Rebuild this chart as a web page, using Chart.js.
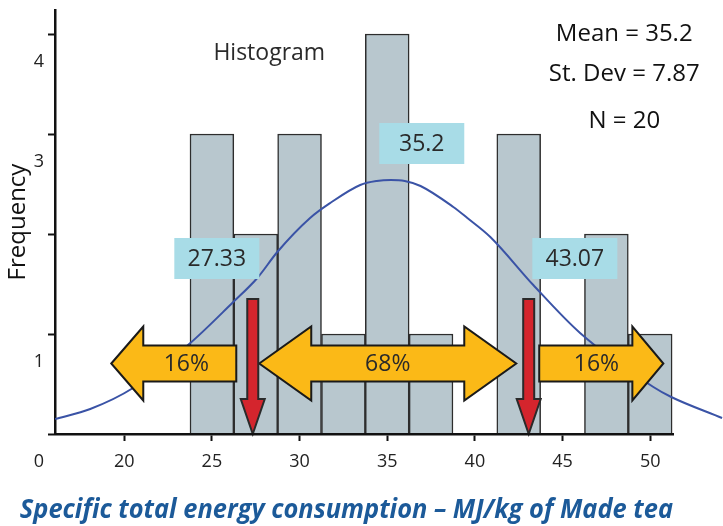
<!DOCTYPE html>
<html>
<head>
<meta charset="utf-8">
<title>Specific total energy consumption histogram</title>
<script src="https://cdn.jsdelivr.net/npm/chart.js@4.4.1/dist/chart.umd.min.js"></script>
<style>
  html, body { margin: 0; padding: 0; background: #fff; }
  #wrap { width: 723px; height: 526px; }
</style>
</head>
<body>
<div id="wrap"><canvas id="histChart" width="723" height="526"></canvas></div>
<script>
// Histogram bins (centres of 2.5 MJ/kg wide bins) and their counts
const binCentres = [25, 27.5, 30, 32.5, 35, 37.5, 40, 42.5, 45, 47.5, 50];
const binCounts  = [3, 2, 3, 1, 4, 1, 0, 3, 0, 2, 1];

// Fitted normal curve
const curveX = [16.06, 18.06, 20.5, 23.77, 26.16, 27.59, 28.73, 30.6, 31.75, 33.46, 34.4,
                35.2, 36.0, 36.9, 38.77, 39.57, 40.88, 43.33, 46.0, 50.18, 51.2, 54.1];
const curveY = [0.15, 0.25, 0.46, 0.91, 1.31, 1.56, 1.82, 2.16, 2.31, 2.49, 2.53,
                2.54, 2.53, 2.48, 2.27, 2.16, 1.97, 1.49, 1.01, 0.47, 0.37, 0.16];

// Axis ticks
const xTickValues = [20, 25, 30, 35, 40, 45, 50];
const yTickValues = [0, 1, 2, 3, 4];
const yTickLabels = ['0', '1', '', '3', '4'];

// Summary statistics and the +/- 1 sd markers
const statLines   = ['Mean = 35.2', 'St. Dev = 7.87', 'N = 20'];
const markerTexts = ['27.33', '35.2', '43.07'];
const sdMarkers   = [27.33, 43.07];
const shareLabels = ['16%', '68%', '16%'];

const FONT = '"Open Sans", "Noto Sans", sans-serif';

// where the annotations sit (data units)
const layoutNotes = {
  histogram: { x: 28.27, y: 3.82 },
  stats: { x: 48.52, y: [4.01, 3.61, 3.14] },
  boxes: [{ x: 25.28, y: 1.755 }, { x: 36.97, y: 2.905 }, { x: 45.7, y: 1.755 }],
  bands: [
    { left: 19.26, right: 26.39, headL: true,  headR: false, headLen: 32, labelAt: 23.54 },
    { left: 27.70, right: 42.36, headL: true,  headR: true,  headLen: 52, labelAt: 35.03 },
    { left: 43.67, right: 50.75, headL: false, headR: true,  headLen: 31, labelAt: 46.93 }
  ],
  bandY: 0.705,
  redTop: 1.35
};

function blockArrow(ctx, xl, xr, yc, a) {
  const sh = 18, hh = 37, hl = a.headLen;
  ctx.beginPath();
  if (a.headL) { ctx.moveTo(xl, yc); ctx.lineTo(xl + hl, yc - hh); ctx.lineTo(xl + hl, yc - sh); }
  else { ctx.moveTo(xl, yc - sh); }
  if (a.headR) {
    ctx.lineTo(xr - hl, yc - sh); ctx.lineTo(xr - hl, yc - hh); ctx.lineTo(xr, yc);
    ctx.lineTo(xr - hl, yc + hh); ctx.lineTo(xr - hl, yc + sh);
  } else {
    ctx.lineTo(xr, yc - sh); ctx.lineTo(xr, yc + sh);
  }
  if (a.headL) { ctx.lineTo(xl + hl, yc + sh); ctx.lineTo(xl + hl, yc + hh); }
  else { ctx.lineTo(xl, yc + sh); }
  ctx.closePath();
  ctx.fillStyle = '#fbb917';
  ctx.fill();
  ctx.lineWidth = 2;
  ctx.strokeStyle = '#1a1a1a';
  ctx.stroke();
}

function downArrow(ctx, xc, top, tip) {
  const sw = 5.5, hw = 12, hl = 35;
  ctx.beginPath();
  ctx.moveTo(xc - sw, top);
  ctx.lineTo(xc + sw, top);
  ctx.lineTo(xc + sw, tip - hl);
  ctx.lineTo(xc + hw, tip - hl);
  ctx.lineTo(xc, tip);
  ctx.lineTo(xc - hw, tip - hl);
  ctx.lineTo(xc - sw, tip - hl);
  ctx.closePath();
  ctx.fillStyle = '#d4252d';
  ctx.fill();
  ctx.lineWidth = 2;
  ctx.strokeStyle = '#2a2a2a';
  ctx.stroke();
}

const overlay = {
  id: 'overlay',
  afterDatasetsDraw(chart) {
    const { ctx } = chart;
    const x = chart.scales.x, y = chart.scales.y;
    ctx.save();

    // 16% / 68% / 16% band arrows
    const yc = y.getPixelForValue(layoutNotes.bandY);
    layoutNotes.bands.forEach((b, i) => {
      blockArrow(ctx, x.getPixelForValue(b.left), x.getPixelForValue(b.right), yc, b);
      ctx.fillStyle = '#2a2a2a';
      ctx.font = '23px ' + FONT;
      ctx.textAlign = 'center';
      ctx.textBaseline = 'middle';
      ctx.fillText(shareLabels[i], x.getPixelForValue(b.labelAt), yc + 1);
    });

    // red markers at mean +/- 1 sd
    sdMarkers.forEach(v => {
      downArrow(ctx, x.getPixelForValue(v), y.getPixelForValue(layoutNotes.redTop), y.getPixelForValue(0));
    });

    // value boxes
    layoutNotes.boxes.forEach((p, i) => {
      const cx = x.getPixelForValue(p.x), cy = y.getPixelForValue(p.y);
      ctx.fillStyle = '#a8dce7';
      ctx.fillRect(cx - 42.5, cy - 20.5, 85, 41);
      ctx.fillStyle = '#2a2a2a';
      ctx.font = '23px ' + FONT;
      ctx.textAlign = 'center';
      ctx.textBaseline = 'middle';
      ctx.fillText(markerTexts[i], cx, cy + 1);
    });

    // "Histogram" and summary stats
    ctx.fillStyle = '#2a2a2a';
    ctx.font = '23px ' + FONT;
    ctx.fillText('Histogram', x.getPixelForValue(layoutNotes.histogram.x), y.getPixelForValue(layoutNotes.histogram.y) + 1);
    ctx.fillStyle = '#111';
    ctx.font = '24px ' + FONT;
    statLines.forEach((t, i) => {
      ctx.fillText(t, x.getPixelForValue(layoutNotes.stats.x), y.getPixelForValue(layoutNotes.stats.y[i]) + 1);
    });
    ctx.restore();
  }
};

const ctx = document.getElementById('histChart').getContext('2d');

new Chart(ctx, {
  type: 'bar',
  data: {
    datasets: [
      {
        type: 'line',
        label: 'Normal fit',
        data: curveX.map((v, i) => ({ x: v, y: curveY[i] })),
        borderColor: '#3a53a6',
        borderWidth: 2,
        pointRadius: 0,
        cubicInterpolationMode: 'monotone',
        fill: false,
        clip: false,
        order: 1
      },
      {
        type: 'bar',
        label: 'Frequency',
        data: binCentres.map((v, i) => ({ x: v, y: binCounts[i] })),
        backgroundColor: '#b8c7ce',
        borderColor: '#2d2d2d',
        borderWidth: 1.5,
        barPercentage: 1,
        categoryPercentage: 1,
        order: 2
      }
    ]
  },
  options: {
    responsive: false,
    animation: false,
    layout: { padding: { top: 10, right: 50, left: 0, bottom: 0 } },
    plugins: {
      legend: { display: false },
      tooltip: { enabled: false },
      title: {
        display: true,
        position: 'bottom',
        text: '   Specific total energy consumption \u2013 MJ/kg of Made tea',
        color: '#1c5a99',
        font: { family: FONT, size: 26, weight: 'bold', style: 'italic', lineHeight: 1.2 },
        padding: { top: 2, bottom: 0 }
      }
    },
    scales: {
      x: {
        type: 'linear',
        min: 16.05,
        max: 51.3,
        offset: false,
        afterBuildTicks: s => { s.ticks = xTickValues.map(v => ({ value: v })); },
        afterFit: s => { s.height = 58.8; s.paddingLeft = 0; s.paddingRight = 0; },
        grid: { drawOnChartArea: false, offset: false, tickLength: 7, tickWidth: 2, tickColor: '#111' },
        border: { color: '#111', width: 2.5, z: 1 },
        ticks: { color: '#222', font: { family: FONT, size: 18 }, padding: 10, maxRotation: 0 }
      },
      y: {
        min: 0,
        max: 4.24,
        afterBuildTicks: s => { s.ticks = yTickValues.map(v => ({ value: v })); },
        afterFit: s => { s.width = 55; s.paddingTop = 0; s.paddingBottom = 0; },
        grid: { drawOnChartArea: false, tickLength: 7, tickWidth: 2, tickColor: '#111' },
        border: { color: '#111', width: 2.5 },
        ticks: {
          color: '#222',
          font: { family: FONT, size: 18 },
          padding: 4,
          labelOffset: 28,
          callback: (v, i) => yTickLabels[i]
        },
        title: {
          display: true,
          text: 'Frequency',
          color: '#111',
          font: { family: FONT, size: 24 },
          padding: { top: 4, bottom: 0 }
        }
      }
    }
  },
  plugins: [overlay]
});
</script>
</body>
</html>
